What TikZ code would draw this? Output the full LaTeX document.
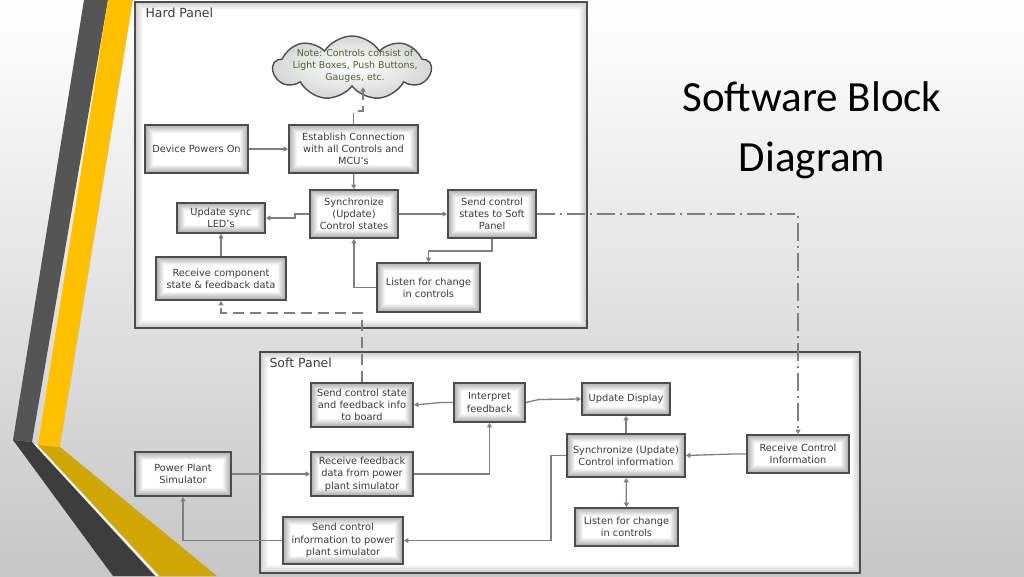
\documentclass[tikz,border=0pt]{standalone}
\usepackage{fontspec}
\setmainfont{DejaVu Sans}
\newfontfamily\titlefont{Carlito}
\usetikzlibrary{shapes.symbols,arrows.meta}
\definecolor{bordc}{HTML}{4D4D4D}
\definecolor{linec}{HTML}{7F7F7F}
\definecolor{txtc}{HTML}{3A3A3A}
\definecolor{notec}{HTML}{4F6228}
\definecolor{stripedark}{HTML}{555555}
\definecolor{stripedarker}{HTML}{3D3D3D}
\definecolor{stripeyel}{HTML}{FFC000}
\definecolor{stripegold}{HTML}{D0A600}
\definecolor{bgbottom}{HTML}{C6C6C6}
\tikzset{
  innershade/.style={path picture={
    \foreach \i in {0,...,7}{
      \pgfmathtruncatemacro\g{(8-\i)*#1}
      \fill[gray!\g] ([shift={(\i pt,\i pt)}]path picture bounding box.south west) rectangle ([shift={(-\i pt,-\i pt)}]path picture bounding box.north east);
    }
    \fill[white] ([shift={(8pt,8pt)}]path picture bounding box.south west) rectangle ([shift={(-8pt,-8pt)}]path picture bounding box.north east);
  }},
  blk/.style={draw=bordc, line width=1.8pt, innershade=8, align=center, text=txtc,
    font=\fontsize{9.8}{12.3}\selectfont, inner sep=1pt},
  panel/.style={draw=bordc, line width=2pt, innershade=5},
  plabel/.style={anchor=base west, text=txtc, font=\fontsize{12.5}{14}\selectfont},
  conn/.style={draw=linec, line width=1.3pt, -{Triangle[width=5pt,length=4.5pt]}},
  conntwo/.style={draw=linec, line width=1.3pt, {Triangle[width=5pt,length=4.5pt]}-{Triangle[width=5pt,length=4.5pt]}},
  dconn/.style={draw=linec, line width=1.3pt, dash pattern=on 11pt off 6pt, -{Triangle[width=5pt,length=4.5pt]}},
  ddconn/.style={draw=linec, line width=1.3pt, dash pattern=on 18pt off 5pt on 2pt off 5pt, -{Triangle[width=5pt,length=4.5pt]}},
}
\begin{document}
\begin{tikzpicture}[x=1pt,y=-1pt]
\useasboundingbox (0,0) rectangle (1024,576);
% background
\shade[top color=white, bottom color=bgbottom] (0,0) rectangle (1024,576);
% stripes
\fill[stripedark] (84,0) -- (108,0) -- (32,442) -- (13,440) -- cycle;
\fill[stripeyel] (108,0) -- (133,0) -- (60,447) -- (38,445) -- cycle;
\fill[stripedarker] (13,440) -- (32,442) -- (155,576) -- (113,576) -- cycle;
\fill[stripegold] (38,445) -- (60,447) -- (217,576) -- (160,576) -- cycle;
\draw[white, line width=1.5pt] (35,444) -- (157.5,576);

% title
\node[font=\titlefont\fontsize{43}{60}\selectfont, align=center, text=black] (title) at (812,130) {Software Block\\Diagram};

% panels
\node[panel, minimum width=452pt, minimum height=326pt] (hp) at (361,165) {};
\node[plabel] (hpl) at ([shift={(8pt,-16pt)}]hp.north west) {Hard Panel};
\node[panel, minimum width=600pt, minimum height=221pt] (sp) at (560,462.5) {};
\node[plabel] (spl) at ([shift={(7pt,-16pt)}]sp.north west) {Soft Panel};

% hard panel nodes
\node[cloud, cloud puffs=9, cloud puff arc=115, cloud ignores aspect, draw=bordc, line width=1.4pt,
  inner color=white, outer color=gray!32, minimum width=158pt, minimum height=64pt] (cloud) at (352,68) {};
\node[text=notec, align=center, font=\fontsize{9.4}{11.8}\selectfont] (cloudtxt) at (355,66) {Note: Controls consist of\\Light Boxes, Push Buttons,\\Gauges, etc.};
\node[blk, minimum width=103pt, minimum height=48pt] (dev) at (196.5,149) {Device Powers On};
\node[blk, minimum width=129pt, minimum height=48pt] (est) at (353.5,149) {Establish Connection\\with all Controls and\\MCU's};
\node[blk, minimum width=88pt, minimum height=48pt] (sync) at (354,214) {Synchronize\\(Update)\\Control states};
\node[blk, minimum width=88pt, minimum height=30pt] (led) at (221,218) {Update sync\\LED's};
\node[blk, minimum width=88pt, minimum height=48pt] (sendsp) at (492,214) {Send control\\states to Soft\\Panel};
\node[blk, minimum width=130pt, minimum height=43pt] (rcv) at (221,278.5) {Receive component\\state \& feedback data};
\node[blk, minimum width=103pt, minimum height=49pt] (listen) at (428.5,287.5) {Listen for change\\in controls};

% soft panel nodes
\node[blk, minimum width=102pt, minimum height=44pt] (sendfb) at (362,405) {Send control state\\and feedback info\\to board};
\node[blk, minimum width=71pt, minimum height=39pt] (interp) at (489.5,402.5) {Interpret\\feedback};
\node[blk, minimum width=88pt, minimum height=32pt] (upd) at (626,399) {Update Display};
\node[blk, minimum width=102pt, minimum height=44pt] (rfb) at (362,474) {Receive feedback\\data from power\\plant simulator};
\node[blk, minimum width=96pt, minimum height=44pt] (pps) at (183,474) {Power Plant\\Simulator};
\node[blk, minimum width=120pt, minimum height=47pt] (sci) at (343,540.5) {Send control\\information to power\\plant simulator};
\node[blk, minimum width=118pt, minimum height=43pt] (syncci) at (626,455.5) {Synchronize (Update)\\Control information};
\node[blk, minimum width=103pt, minimum height=38pt] (lis2) at (626.5,527) {Listen for change\\in controls};
\node[blk, minimum width=102pt, minimum height=38pt] (rci) at (798,454) {Receive Control\\Information};

% hard panel connectors
\draw[dconn] (est.north) -- ++(0,-13) -| ([xshift=11pt]cloud.south);
\draw[conn] (dev) -- (est);
\draw[conn] (est) -- (sync);
\draw[conn] (sync.west) -- ++(-14,0) |- (led.east);
\draw[conn] (sync) -- (sendsp);
\draw[conn] (rcv) -- (led);
\draw[conn] (sendsp.south) -- ++(0,12) -| (listen.north);
\draw[conn] (listen.west) -| (sync.south);
\coordinate (fbturn) at (362,313);
\draw[dconn] (sendfb.north) -- (fbturn) -| (rcv.south);
\draw[ddconn] (sendsp.east) -| (rci.north);

% soft panel connectors
\draw[conn] (interp.west) -- ++(-12,0) -- (sendfb.east);
\draw[conn] (interp.east) -- ++(13,-3) -- (upd.west);
\draw[conn] (rfb.east) -| (interp.south);
\draw[conn] (pps) -- (rfb);
\draw[conn] (sci.west) -| (pps.south);
\draw[conn] (syncci.west) -- ++(-15,0) |- (sci.east);
\draw[conn] (syncci) -- (upd);
\draw[conntwo] (syncci) -- (lis2);
\draw[conn] (rci.west) -- ++(-14,0) -- (syncci.east);
\end{tikzpicture}
\end{document}
